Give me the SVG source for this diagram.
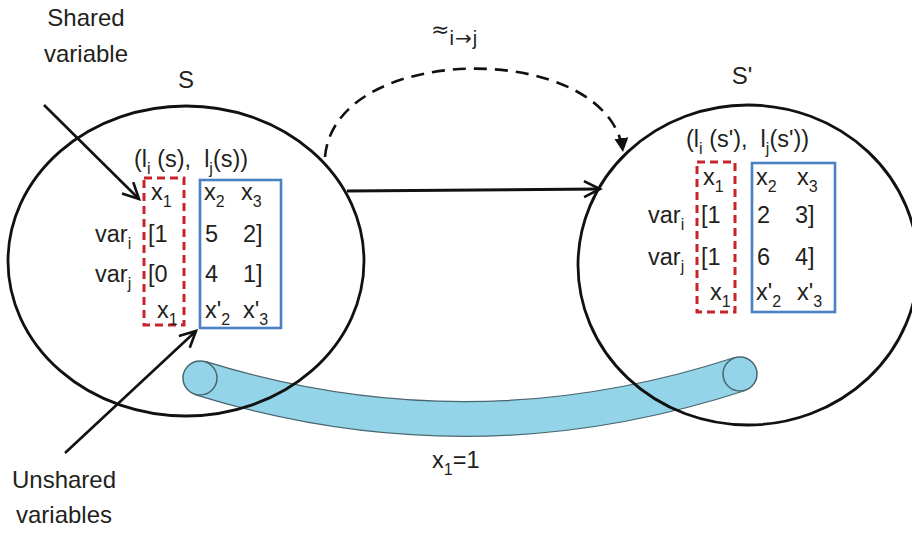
<svg xmlns="http://www.w3.org/2000/svg" width="912" height="537" viewBox="0 0 912 537">
<defs>
<style>
text{font-family:"Liberation Sans",Arial,sans-serif;fill:#231f20;}
.lbl{font-size:24px;}
.m{font-size:23.5px;}
.sb{font-size:16px;}
.st{fill:none;stroke:#111;stroke-width:2.8;}
.red{fill:none;stroke:#c8232b;stroke-width:3;stroke-dasharray:8 5;}
.blue{fill:none;stroke:#4a80c4;stroke-width:2.6;}
</style>
<marker id="open" markerUnits="userSpaceOnUse" markerWidth="24" markerHeight="24" refX="18" refY="9" orient="auto">
<path d="M2,1 L18,9 L2,17" fill="none" stroke="#111" stroke-width="2.6"/>
</marker>
<marker id="tri" markerUnits="userSpaceOnUse" markerWidth="20" markerHeight="20" refX="14" refY="7" orient="auto">
<path d="M0,0 L14,7 L0,14 Z" fill="#111"/>
</marker>
</defs>
<rect width="912" height="537" fill="#fff"/>

<g id="tube">
<path d="M200,378 Q470,462 740,374" fill="none" stroke="#4a6670" stroke-width="36"/>
<path d="M200,378 Q470,462 740,374" fill="none" stroke="#93d4e8" stroke-width="33.5"/>
<circle cx="200" cy="378" r="17" fill="#93d4e8" stroke="#4a6670" stroke-width="1.5"/>
<circle cx="740" cy="374" r="17" fill="#93d4e8" stroke="#4a6670" stroke-width="1.5"/>
</g>

<g id="S">
<ellipse class="st" cx="186" cy="261" rx="178" ry="155"/>
<text class="lbl" x="186" y="88" text-anchor="middle">S</text>
<text class="m" x="134" y="167" xml:space="preserve">(l<tspan class="sb" dy="7">i</tspan><tspan dy="-7"> (s),  l</tspan><tspan class="sb" dy="7">j</tspan><tspan dy="-7">(s))</tspan></text>
<rect class="red" x="144" y="178" width="40" height="147"/>
<rect class="blue" x="200" y="180" width="81" height="148"/>
<text class="m" x="151" y="200">x<tspan class="sb" dy="7">1</tspan></text>
<text class="m" x="204" y="200">x<tspan class="sb" dy="7">2</tspan></text>
<text class="m" x="241" y="200">x<tspan class="sb" dy="7">3</tspan></text>
<text class="m" x="95" y="242">var<tspan class="sb" dy="7">i</tspan></text>
<text class="m" x="148" y="242">[1</text>
<text class="m" x="205" y="242">5</text>
<text class="m" x="243" y="242">2]</text>
<text class="m" x="95" y="282">var<tspan class="sb" dy="7">j</tspan></text>
<text class="m" x="148" y="282">[0</text>
<text class="m" x="205" y="282">4</text>
<text class="m" x="243" y="282">1]</text>
<text class="m" x="157" y="318">x<tspan class="sb" dy="7">1</tspan></text>
<text class="m" x="205" y="318">x'<tspan class="sb" dy="7">2</tspan></text>
<text class="m" x="243" y="318">x'<tspan class="sb" dy="7">3</tspan></text>
</g>

<g id="S2">
<ellipse class="st" cx="748" cy="265" rx="170" ry="160"/>
<text class="lbl" x="742" y="84" text-anchor="middle">S'</text>
<text class="m" x="686" y="147" xml:space="preserve">(l<tspan class="sb" dy="7">i</tspan><tspan dy="-7"> (s'),  l</tspan><tspan class="sb" dy="7">j</tspan><tspan dy="-7">(s'))</tspan></text>
<rect class="red" x="697" y="162" width="38" height="150"/>
<rect class="blue" x="752" y="163" width="83" height="149"/>
<text class="m" x="703" y="185">x<tspan class="sb" dy="7">1</tspan></text>
<text class="m" x="756" y="185">x<tspan class="sb" dy="7">2</tspan></text>
<text class="m" x="797" y="185">x<tspan class="sb" dy="7">3</tspan></text>
<text class="m" x="648" y="223">var<tspan class="sb" dy="7">i</tspan></text>
<text class="m" x="701" y="223">[1</text>
<text class="m" x="757" y="223">2</text>
<text class="m" x="795" y="223">3]</text>
<text class="m" x="648" y="265">var<tspan class="sb" dy="7">j</tspan></text>
<text class="m" x="701" y="265">[1</text>
<text class="m" x="757" y="265">6</text>
<text class="m" x="795" y="265">4]</text>
<text class="m" x="710" y="300">x<tspan class="sb" dy="7">1</tspan></text>
<text class="m" x="756" y="300">x'<tspan class="sb" dy="7">2</tspan></text>
<text class="m" x="797" y="300">x'<tspan class="sb" dy="7">3</tspan></text>
</g>

<g id="shared-label">
<text class="lbl" x="86" y="26" text-anchor="middle">Shared</text>
<text class="lbl" x="86" y="62" text-anchor="middle">variable</text>
</g>
<g id="unshared-label">
<text class="lbl" x="64" y="488" text-anchor="middle">Unshared</text>
<text class="lbl" x="64" y="523" text-anchor="middle">variables</text>
</g>
<g id="x1-label">
<text class="m" x="432" y="468">x<tspan class="sb" dy="7">1</tspan><tspan dy="-7">=1</tspan></text>
</g>
<g id="approx-label">
<text x="431" y="37" style="font-family:'DejaVu Sans',sans-serif;font-size:22px">≈<tspan style="font-family:'Liberation Sans',sans-serif;font-size:20px" dy="8">i</tspan><tspan style="font-family:'DejaVu Sans',sans-serif;font-size:20px" dx="1">→</tspan><tspan style="font-family:'Liberation Sans',sans-serif;font-size:20px" dx="1">j</tspan></text>
</g>

<g id="connectors">
<path d="M325,157 C335,40 610,40 623,152" fill="none" stroke="#111" stroke-width="2.6" stroke-dasharray="13 8" marker-end="url(#tri)"/>
<line x1="347" y1="191" x2="600" y2="189" stroke="#111" stroke-width="3" marker-end="url(#open)"/>
<line x1="44" y1="105" x2="139" y2="199" stroke="#111" stroke-width="2.6" marker-end="url(#open)"/>
<line x1="65" y1="453" x2="196" y2="331" stroke="#111" stroke-width="2.6" marker-end="url(#open)"/>
</g>
</svg>
